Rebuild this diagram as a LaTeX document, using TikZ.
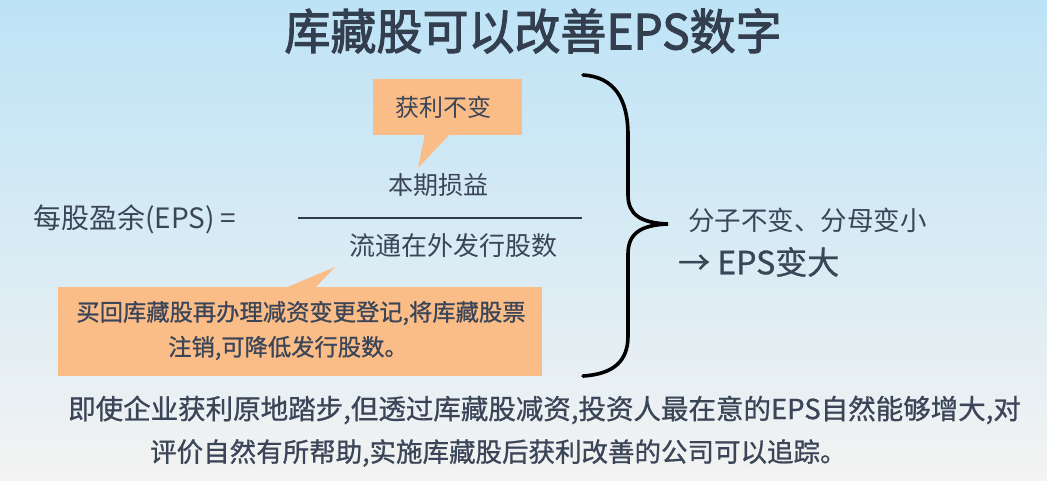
\documentclass[tikz,border=0pt]{standalone}
\usepackage{fontspec}
\setmainfont{Noto Sans CJK SC}
\newfontfamily\medfont{Noto Sans CJK SC}[FakeBold=0.9]
\newfontfamily\ttlfont{Noto Sans CJK SC}[FakeBold=2.2]
\begin{document}
\begin{tikzpicture}[x=1pt,y=-1pt,
  txt/.style={inner sep=0pt, text=textc},
  bubble/.style={fill=bubc},
]
\definecolor{textc}{HTML}{3A4558}
\definecolor{titlec}{HTML}{333E4F}
\definecolor{bubc}{HTML}{FBBD88}
\definecolor{bgtop}{HTML}{BDE3F6}
\definecolor{bgmid}{HTML}{E0EEF4}
\definecolor{bgbot}{HTML}{F3F3F2}
\useasboundingbox (0,0) rectangle (1047,481);
\shade[top color=bgtop, middle color=bgmid, bottom color=bgbot] (0,0) rectangle (1047,481);

% title
\node[txt, text=titlec, font=\ttlfont\fontsize{46}{46}\selectfont, yscale=1.05] (title) at (533,31) {库藏股可以改善EPS数字};

% bubble 1
\fill[bubble] (373,79) rectangle (522,135);
\fill[bubble] (425,134) -- (418,168) -- (450,134) -- cycle;
\node[txt, font=\fontsize{24}{24}\selectfont] (bub1) at (443,107) {获利不变};

% fraction
\node[txt, font=\fontsize{25}{25}\selectfont] (num) at (438,185) {本期损益};
\coordinate (fl) at (298,218);
\coordinate (fr) at (582,218);
\draw[line width=2pt, draw=textc!85!black] (fl) -- (fr);
\node[txt, font=\fontsize{26}{26}\selectfont] (den) at (453,246) {流通在外发行股数};
\node[txt, anchor=west, font=\fontsize{28}{28}\selectfont] (lhs) at (33,219) {每股盈余(EPS) =};

% bubble 2
\fill[bubble] (58,287) rectangle (542,376);
\fill[bubble] (285,288) -- (335,267) -- (315,288) -- cycle;
\node[txt, font=\medfont\fontsize{23.3}{23.3}\selectfont] (bub2a) at (301,313) {买回库藏股再办理减资变更登记,将库藏股票};
\node[txt, font=\medfont\fontsize{23.3}{23.3}\selectfont] (bub2b) at (288,348) {注销,可降低发行股数。};

% brace
\draw[line width=3.6pt, line cap=round] (583,75) .. controls (615,77) and (628,100) .. (628,135)
  -- (628,195) .. controls (628,214) and (640,223) .. (668,224)
  .. controls (640,225) and (628,234) .. (628,254)
  -- (628,336) .. controls (628,360) and (615,374) .. (583,376);

% result
\node[txt, anchor=west, font=\fontsize{26.5}{26.5}\selectfont] (res1) at (688,220) {分子不变、分母变小};
\node[txt, anchor=west, font=\medfont\fontsize{32}{32}\selectfont] (res2) at (678,262) {→ EPS变大};

% footer
\node[txt, anchor=west, font=\medfont\fontsize{27.5}{27.5}\selectfont] (foot1) at (68,410) {即使企业获利原地踏步,但透过库藏股减资,投资人最在意的EPS自然能够增大,对};
\node[txt, anchor=west, font=\medfont\fontsize{26.5}{26.5}\selectfont] (foot2) at (150,453) {评价自然有所帮助,实施库藏股后获利改善的公司可以追踪。};
\end{tikzpicture}
\end{document}
